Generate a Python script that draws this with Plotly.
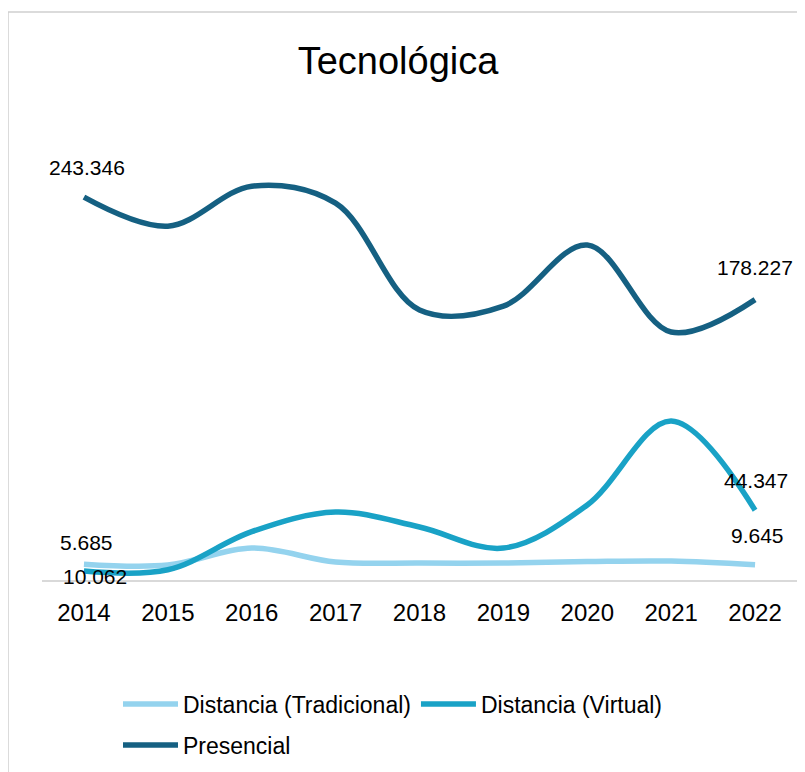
import plotly.graph_objects as go

years = [2014, 2015, 2016, 2017, 2018, 2019, 2020, 2021, 2022]
tradicional = [10062, 9500, 20300, 11400, 10800, 10800, 11700, 12000, 9645]
virtual = [5685, 6500, 30700, 43200, 33700, 20300, 47700, 101000, 44347]
presencial = [243346, 224900, 250300, 239500, 171600, 174100, 212900, 157600, 178227]

names = ["Distancia (Tradicional)", "Distancia (Virtual)", "Presencial"]
colors = ["#94d3ee", "#19a2c6", "#156082"]

FONT = "Liberation Sans, Arial, sans-serif"
O = 8  # page body margin offset
PW, PH = 805, 772
W, H = PW - O, PH - O
# plot area in page coords: x 42..797, y 108..580
ML = 42 - O
MR = PW - 797
MT = 108 - O
MB = PH - 580

def fmt(v):
    return f"{v:,.0f}".replace(",", ".")

fig = go.Figure()
series = [tradicional, virtual, presencial]
for i, (name, vals, col) in enumerate(zip(names, series, colors)):
    fig.add_trace(go.Scatter(
        x=years, y=vals, name=name, mode="lines",
        line=dict(color=col, width=5.5, shape="spline", smoothing=1.0),
        legend="legend" if i < 2 else "legend2",
        hoverinfo="skip",
    ))

# data labels at first and last points: (series, index, xshift, yshift)
label_specs = [
    (presencial, 0, 3, 30),
    (presencial, 8, 0, 32),
    (virtual, 8, 1, 30),
    (tradicional, 8, 2, 29),
    (virtual, 0, 3, 29),
    (tradicional, 0, 11, -12),
]
for vals, idx, xs, ys in label_specs:
    fig.add_annotation(x=years[idx], y=vals[idx], xref="x", yref="y",
                       text=fmt(vals[idx]),
                       showarrow=False, xshift=xs, yshift=ys,
                       font=dict(family=FONT, size=21, color="#000000"))

pw = W - ML - MR
ph = H - MT - MB
def px(xp):
    return (xp - O - ML) / pw
def py(yp):
    return (H - MB - (yp - O)) / ph

fig.add_shape(type="rect", xref="paper", yref="paper",
              x0=px(8), x1=px(PW + 10), y0=py(PH + 10), y1=py(12),
              line=dict(color="#d0d0d0", width=1.5), fillcolor="rgba(0,0,0,0)",
              layer="below")

fig.update_layout(
    width=W, height=H,
    margin=dict(l=ML, r=MR, t=MT, b=MB),
    paper_bgcolor="white", plot_bgcolor="white",
    font=dict(family=FONT, color="#000000"),
    title=dict(text="Tecnológica", x=(398 - O) / W, xanchor="center", xref="container",
               y=1 - (61 - O) / H, yanchor="middle", yref="container",
               font=dict(family=FONT, size=38, color="#000000")),
    xaxis=dict(type="linear", range=[years[0] - 0.5, years[-1] + 0.5], showgrid=False,
               tickmode="array", tickvals=years, ticktext=[str(y) for y in years],
               showline=True, linecolor="#d9d9d9", linewidth=2,
               ticks="", ticklabelstandoff=10,
               tickfont=dict(family=FONT, size=24, color="#000000"),
               zeroline=False, fixedrange=True),
    yaxis=dict(range=[0, 300000], showticklabels=False, showline=False,
               ticks="", showgrid=False, zeroline=False, fixedrange=True),
    legend=dict(orientation="h", xref="container", yref="container",
                x=(118 - O) / W, y=1 - (704 - O) / H, xanchor="left", yanchor="middle",
                font=dict(family=FONT, size=23, color="#000000"),
                itemwidth=55, bgcolor="rgba(0,0,0,0)"),
    legend2=dict(orientation="h", xref="container", yref="container",
                 x=(118 - O) / W, y=1 - (745 - O) / H, xanchor="left", yanchor="middle",
                 font=dict(family=FONT, size=23, color="#000000"),
                 itemwidth=55, bgcolor="rgba(0,0,0,0)"),
    showlegend=True,
)

fig.write_html("out.html")
